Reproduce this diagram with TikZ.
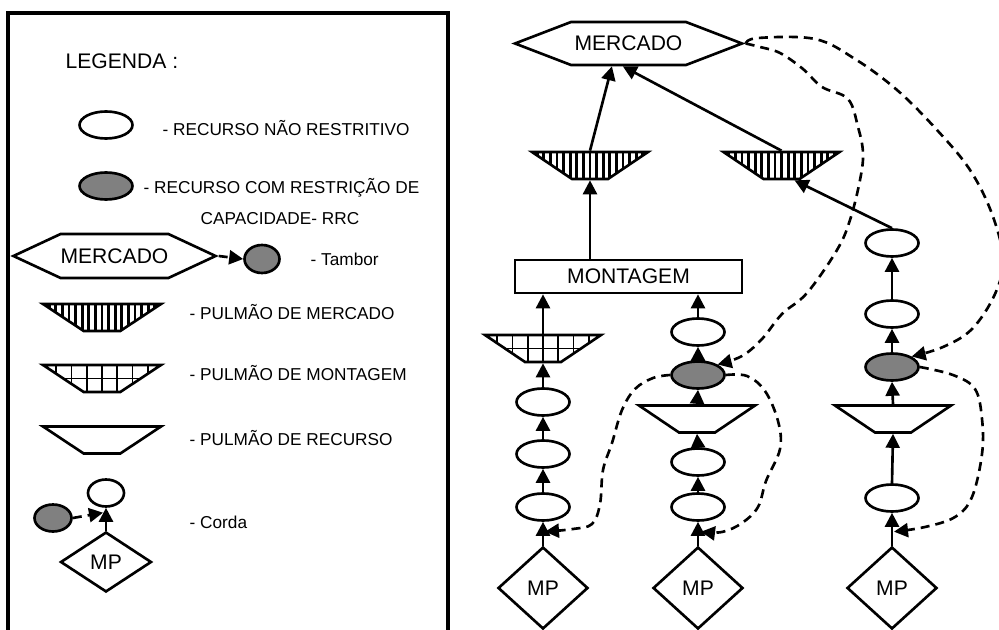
\documentclass[tikz,border=0pt]{standalone}
\usepackage{fontspec}
\setmainfont{Liberation Sans}
\usetikzlibrary{arrows.meta}
\usetikzlibrary{calc}
\usetikzlibrary{positioning}
\usetikzlibrary{shapes.geometric}
\usetikzlibrary{shapes.symbols}
\tikzset{basic shape/.style={draw,line width=0.75pt,inner sep=0pt}}
\tikzset{resource/.style={basic shape,ellipse,fill=white,
                          minimum width=0.53cm,minimum height=0.27cm}}
\tikzset{constraint/.style={resource,fill=gray}}
\tikzset{buffer/.style={basic shape,trapezium,trapezium angle=42,
                        shape border rotate=180,trapezium stretches=true,
                        inner sep=1pt,
                        minimum width=1.16cm,minimum height=0.27cm,fill=white}}
\tikzset{market buffer/.style={buffer,
                               path picture={\foreach \i in {-10,...,10}
                               \draw[line width=0.028cm]
                               ([xshift={\i*0.066cm}]path picture bounding box.south) --
                               ([xshift={\i*0.066cm}]path picture bounding box.north);}}}
\tikzset{assembly buffer/.style={buffer,
                                 path picture={\foreach \i in {-3,...,3}
                                 \draw[line width=0.5pt]
                                 ([xshift={\i*0.153cm}]path picture bounding box.south) --
                                 ([xshift={\i*0.153cm}]path picture bounding box.north);
                                 \draw[line width=0.5pt] (path picture bounding box.west) --
                                 (path picture bounding box.east);}}}
\tikzset{market/.style={basic shape,signal,signal to=west and east,
                        signal pointer angle=42,fill=white,
                        minimum width=2.27cm,minimum height=0.43cm,
                        font=\fontsize{6}{7}\selectfont}}
\tikzset{assembly/.style={basic shape,rectangle,fill=white,
                          minimum width=2.27cm,minimum height=0.33cm,
                          font=\fontsize{6}{7}\selectfont}}
\tikzset{material/.style={basic shape,diamond,fill=white,
                          minimum width=0.9cm,minimum height=0.82cm,
                          font=\fontsize{6}{7}\selectfont}}
\tikzset{flow/.style={draw,line width=0.75pt,
                      -{Triangle[length=0.14cm,width=0.14cm]}}}
\tikzset{rope/.style={flow,dash pattern=on 0.09cm off 0.06cm}}
\tikzset{legend text/.style={anchor=west,inner sep=0pt,
                             font=\fontsize{4.9}{6}\selectfont}}

\begin{document}
\begin{tikzpicture}
      \useasboundingbox (0,0) rectangle (9.99,6.29);
      \clip (0,0) rectangle (9.99,6.29);

      % legend
      \draw [line width=0.9pt] (0.08,-0.2) rectangle (4.48,6.16);
      \node [legend text,font=\fontsize{6}{7}\selectfont] (tleg) at (0.65,5.68) {LEGENDA :};
      \node [resource] (lres) at (1.06,5.04) {};
      \node [legend text] (tres) at (1.62,5.01) {- RECURSO NÃO RESTRITIVO};
      \node [constraint] (lrrc) at (1.06,4.43) {};
      \node [legend text] (trrc) at (1.43,4.41) {- RECURSO COM RESTRIÇÃO DE};
      \node [legend text] (trrcb) at (2.00,4.10) {CAPACIDADE- RRC};
      \node [market,signal pointer angle=50,minimum width=1.91cm,
             minimum height=0.44cm] (lmkt) at (1.145,3.73) {MERCADO};
      \node [constraint,minimum width=0.35cm,minimum height=0.28cm] (ldrum) at (2.62,3.70) {};
      \node [legend text] (tdrum) at (3.10,3.70) {- Tambor};
      \node [market buffer,minimum width=1.18cm] (lbm) at (1.02,3.115) {};
      \node [legend text] (tbm) at (1.89,3.17) {- PULMÃO DE MERCADO};
      \node [assembly buffer,minimum width=1.18cm] (lba) at (1.02,2.505) {};
      \node [legend text] (tba) at (1.89,2.56) {- PULMÃO DE MONTAGEM};
      \node [buffer,minimum width=1.18cm] (lbr) at (1.02,1.89) {};
      \node [legend text] (tbr) at (1.89,1.91) {- PULMÃO DE RECURSO};
      \node [resource,minimum width=0.36cm] (lcres) at (1.06,1.36) {};
      \node [constraint,minimum width=0.37cm] (lcrrc) at (0.53,1.11) {};
      \node [material,minimum width=0.91cm,minimum height=0.6cm] (lmp) at (1.06,0.67) {MP};
      \node [legend text] (tcord) at (1.89,1.07) {- Corda};
      \coordinate (lrel) at ($(lmp.north)+(-0.03,0.18)$);

      \draw [rope] (lmkt.east) -- (ldrum.west);
      \draw [flow] (lmp.north) -- (lcres.south);
      \draw [rope] (lcrrc.east) -- (lrel);

      % nodes
      \node [market] (mkt) at (6.285,5.855) {MERCADO};
      \node [market buffer] (bm1) at (5.90,4.635) {};
      \node [market buffer] (bm2) at (7.815,4.635) {};
      \node [assembly] (mont) at (6.285,3.525) {MONTAGEM};
      \node [assembly buffer] (ba1) at (5.43,2.805) {};
      \node [buffer] (br2) at (6.97,2.10) {};
      \node [buffer] (br3) at (8.93,2.10) {};
      \node [constraint] (rrc2) at (6.98,2.54) {};
      \node [constraint] (rrc3) at (8.92,2.62) {};
      \foreach \n/\x/\y in {e11/5.43/2.27, e12/5.43/1.75, e13/5.43/1.22,
                            e21/6.98/2.97, e22/6.98/1.67, e23/6.98/1.22,
                            e31/8.92/3.86, e32/8.92/3.15, e33/8.92/1.31}
      {
      \node [resource] (\n) at (\x,\y) {};
      }
      \foreach \n/\x in {mp1/5.43, mp2/6.98, mp3/8.92}
      {
      \node [material] (\n) at (\x,0.41) {MP};
      }
      \coordinate (rel1) at ($(mp1.north)+(0.02,0.14)$);
      \coordinate (rel2) at ($(mp2.north)+(0.03,0.14)$);
      \coordinate (rel3) at ($(mp3.north)+(0.02,0.14)$);

      % flow
      \foreach \a/\b in {mp1/e13, e13/e12, e12/e11, e11/ba1,
                         mp2/e23, e23/e22, e22/br2, br2/rrc2, rrc2/e21,
                         mp3/e33, e33/br3, br3/rrc3, rrc3/e32, e32/e31}
      {
      \draw [flow] (\a.north) -- (\b.south);
      }
      \draw [flow] (ba1.north) -- (ba1.north |- mont.south);
      \draw [flow] (e21.north) -- (e21.north |- mont.south);
      \draw [flow] (mont.north -| bm1.south) -- (bm1.south);
      \draw [flow] (bm1.north) -- (mkt.234);
      \draw [flow] (bm2.north) -- (mkt.256);
      \draw [flow] (e31.north) -- ($(bm2.south)+(0.13,0)$);

      % ropes
      \draw [rope] plot [smooth,tension=0.6] coordinates {(mkt.east) (7.58,5.91)
      (8.15,5.90) (8.55,5.70) (8.97,5.39) (9.37,4.99) (9.70,4.59) (9.92,4.15)
      (10.03,3.70) (9.95,3.35) (9.72,3.00) (9.43,2.82) (rrc3.north east)};

      \draw [rope] plot [smooth,tension=0.6] coordinates {(mkt.east) (7.60,5.82)
      (7.80,5.76) (8.03,5.60) (8.22,5.42) (8.48,5.30) (8.58,5.02) (8.63,4.76)
      (8.60,4.49) (8.50,4.09) (8.37,3.79) (8.07,3.36) (7.82,3.15) (7.62,2.90)
      (7.42,2.73) (rrc2.north east)};

      \draw [rope] plot [smooth,tension=0.6] coordinates {(rrc2.west) (6.53,2.51)
      (6.35,2.40) (6.22,2.19) (6.12,1.86) (6.03,1.59) (6.00,1.25) (5.92,1.05)
      (5.73,1.00) (rel1)};

      \draw [rope] plot [smooth,tension=0.6] coordinates {(rrc2.east) (7.47,2.53)
      (7.65,2.38) (7.78,2.08) (7.80,1.80) (7.66,1.48) (7.58,1.22) (7.42,1.06)
      (7.22,0.97) (rel2)};

      \draw [rope] plot [smooth,tension=0.6] coordinates {(rrc3.east) (9.53,2.54)
      (9.75,2.40) (9.82,2.10) (9.82,1.75) (9.72,1.32) (9.55,1.12) (9.25,1.02)
      (rel3)};

    \end{tikzpicture}
\end{document}
